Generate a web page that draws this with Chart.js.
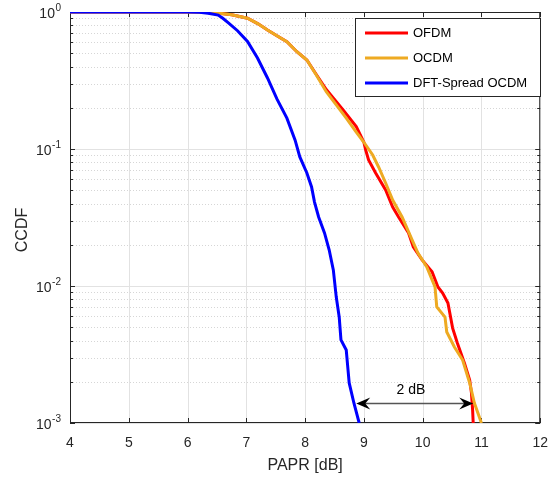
<!DOCTYPE html>
<html>
<head>
<meta charset="utf-8">
<script src="https://cdn.jsdelivr.net/npm/chart.js@4.4.1/dist/chart.umd.min.js"></script>
<style>
  html, body { margin: 0; padding: 0; background: #fff; }
  #wrap { width: 560px; height: 478px; }
</style>
</head>
<body>
<div id="wrap"><canvas id="ccdf" width="560" height="478" style="width:560px;height:478px"></canvas></div>
<script>
// values (PAPR in dB, CCDF)
var xTicks = [4, 5, 6, 7, 8, 9, 10, 11, 12];
var yDecades = [0.001, 0.01, 0.1, 1];
var yExponents = ['-3', '-2', '-1', '0'];

var seriesNames = ['OFDM', 'OCDM', 'DFT-Spread OCDM'];
var seriesColors = ['#ff0000', '#eeaa22', '#0000ff'];

var ofdmX = [4, 6.1, 6.3, 6.5, 6.75, 7.02, 7.2, 7.36, 7.52, 7.69, 7.86, 8.03, 8.19, 8.36, 8.65, 8.87, 9.0, 9.03, 9.08, 9.2, 9.37, 9.49, 9.59, 9.76, 9.84, 9.99, 10.16, 10.26, 10.34, 10.43, 10.51, 10.59, 10.71, 10.8, 10.83, 10.85, 10.86];
var ofdmY = [1, 1, 0.995, 0.985, 0.955, 0.9, 0.82, 0.739, 0.67, 0.607, 0.513, 0.446, 0.35, 0.272, 0.192, 0.146, 0.112, 0.0984, 0.0832, 0.0668, 0.0502, 0.0377, 0.0319, 0.0244, 0.0193, 0.0155, 0.0127, 0.00984, 0.00889, 0.00751, 0.00493, 0.00384, 0.00274, 0.00206, 0.00166, 0.00124, 0.001];

var ocdmX = [4, 6.1, 6.3, 6.5, 6.75, 7.02, 7.2, 7.36, 7.52, 7.69, 7.86, 8.03, 8.19, 8.36, 8.53, 8.7, 8.87, 9.0, 9.15, 9.25, 9.37, 9.49, 9.65, 9.82, 9.92, 10.07, 10.21, 10.24, 10.38, 10.41, 10.54, 10.68, 10.8, 10.88, 11.0];
var ocdmY = [1, 1, 0.995, 0.985, 0.955, 0.9, 0.82, 0.739, 0.67, 0.607, 0.513, 0.446, 0.347, 0.262, 0.21, 0.168, 0.133, 0.112, 0.0904, 0.0739, 0.0565, 0.0424, 0.0319, 0.0217, 0.0174, 0.0138, 0.00984, 0.00703, 0.00594, 0.00462, 0.00359, 0.00288, 0.00196, 0.0014, 0.001];

var dftX = [4, 6.0, 6.2, 6.35, 6.52, 6.6, 6.7, 6.85, 7.02, 7.19, 7.36, 7.52, 7.69, 7.83, 7.91, 8.03, 8.11, 8.16, 8.23, 8.33, 8.41, 8.48, 8.53, 8.58, 8.61, 8.7, 8.73, 8.75, 8.83, 8.92];
var dftY = [1, 1, 0.995, 0.98, 0.95, 0.9, 0.83, 0.73, 0.61, 0.461, 0.33, 0.232, 0.168, 0.116, 0.0875, 0.0668, 0.0528, 0.041, 0.0319, 0.0244, 0.0183, 0.0131, 0.0083, 0.00594, 0.00404, 0.00341, 0.00244, 0.00196, 0.0014, 0.001];

// the "2 dB" double arrow
var annoX = [8.87, 10.86];
var annoY = 0.00141;
var annoTextX = 9.8;
var annoText = '2 dB';

var FONT = "'Liberation Sans', Arial, sans-serif";
var AXIS = '#262626';

function toPoints(xs, ys) {
    var pts = [];
    for (var i = 0; i < xs.length; i++) pts.push({ x: xs[i], y: ys[i] });
    return pts;
}

function hline(ctx, a, py) {
    ctx.beginPath();
    ctx.moveTo(a.left, py);
    ctx.lineTo(a.right, py);
    ctx.stroke();
}

// grid, box and inward ticks, MATLAB style
var axesPlugin = {
    id: 'matlabAxes',
    beforeDatasetsDraw: function(chart) {
        var ctx = chart.ctx, a = chart.chartArea;
        var xs = chart.scales.x, ys = chart.scales.y;
        var i, m, px, py;
        ctx.save();
        ctx.lineWidth = 1;

        ctx.strokeStyle = '#d6d6d6';
        ctx.setLineDash([1, 2]);
        for (i = 0; i < yDecades.length - 1; i++) {
            for (m = 2; m <= 9; m++) {
                py = Math.round(ys.getPixelForValue(yDecades[i] * m)) + 0.5;
                hline(ctx, a, py);
            }
        }
        ctx.setLineDash([]);

        ctx.strokeStyle = '#e2e2e2';
        for (i = 0; i < xTicks.length; i++) {
            px = Math.round(xs.getPixelForValue(xTicks[i])) + 0.5;
            ctx.beginPath();
            ctx.moveTo(px, a.top);
            ctx.lineTo(px, a.bottom);
            ctx.stroke();
        }
        for (i = 0; i < yDecades.length; i++) {
            py = Math.round(ys.getPixelForValue(yDecades[i])) + 0.5;
            hline(ctx, a, py);
        }

        ctx.strokeStyle = AXIS;
        ctx.strokeRect(a.left + 0.5, a.top + 0.5, a.right - a.left - 1, a.bottom - a.top - 1);

        ctx.beginPath();
        for (i = 0; i < xTicks.length; i++) {
            px = Math.round(xs.getPixelForValue(xTicks[i])) + 0.5;
            ctx.moveTo(px, a.bottom); ctx.lineTo(px, a.bottom - 5);
            ctx.moveTo(px, a.top); ctx.lineTo(px, a.top + 5);
        }
        for (i = 0; i < yDecades.length; i++) {
            for (m = 1; m <= 9; m++) {
                if (i == yDecades.length - 1 && m > 1) break;
                var len = (m == 1) ? 5 : 3;
                py = Math.round(ys.getPixelForValue(yDecades[i] * m)) + 0.5;
                ctx.moveTo(a.left, py); ctx.lineTo(a.left + len, py);
                ctx.moveTo(a.right, py); ctx.lineTo(a.right - len, py);
            }
        }
        ctx.stroke();
        ctx.restore();
    },
    afterDraw: function(chart) {
        var ctx = chart.ctx, a = chart.chartArea;
        var xs = chart.scales.x, ys = chart.scales.y;
        var i, py;
        ctx.save();

        // y tick labels 10^n
        ctx.fillStyle = AXIS;
        ctx.textAlign = 'right';
        ctx.textBaseline = 'middle';
        for (i = 0; i < yDecades.length; i++) {
            py = ys.getPixelForValue(yDecades[i]);
            ctx.font = '10px ' + FONT;
            var ew = ctx.measureText(yExponents[i]).width;
            ctx.fillText(yExponents[i], 61, py - 4);
            ctx.font = '14px ' + FONT;
            ctx.fillText('10', 61 - ew - 0.5, py + 2.5);
        }

        // y axis title
        ctx.save();
        ctx.translate(22.5, 230);
        ctx.rotate(-Math.PI / 2);
        ctx.textAlign = 'center';
        ctx.font = '16px ' + FONT;
        ctx.fillText('CCDF', 0, 0);
        ctx.restore();

        // double arrow
        var ay = Math.round(ys.getPixelForValue(annoY)) + 0.5;
        var x0 = xs.getPixelForValue(annoX[0]);
        var x1 = xs.getPixelForValue(annoX[1]);
        ctx.strokeStyle = '#555555';
        ctx.lineWidth = 1.6;
        ctx.beginPath();
        ctx.moveTo(x0 + 8, ay);
        ctx.lineTo(x1 - 8, ay);
        ctx.stroke();
        ctx.fillStyle = '#000000';
        ctx.beginPath();
        ctx.moveTo(x0, ay); ctx.lineTo(x0 + 14, ay - 6); ctx.lineTo(x0 + 9, ay); ctx.lineTo(x0 + 14, ay + 6);
        ctx.closePath();
        ctx.fill();
        ctx.beginPath();
        ctx.moveTo(x1, ay); ctx.lineTo(x1 - 14, ay - 6); ctx.lineTo(x1 - 9, ay); ctx.lineTo(x1 - 14, ay + 6);
        ctx.closePath();
        ctx.fill();
        ctx.font = '14px ' + FONT;
        ctx.textAlign = 'center';
        ctx.textBaseline = 'middle';
        ctx.fillText(annoText, xs.getPixelForValue(annoTextX), ay - 13);

        // legend box in the upper right corner
        ctx.fillStyle = '#ffffff';
        ctx.fillRect(355, 18, 185, 78);
        ctx.strokeStyle = AXIS;
        ctx.lineWidth = 1;
        ctx.strokeRect(355.5, 18.5, 185, 78);
        ctx.font = '13px ' + FONT;
        ctx.textAlign = 'left';
        for (i = 0; i < seriesNames.length; i++) {
            var ly = 33 + i * 25;
            ctx.strokeStyle = seriesColors[i];
            ctx.lineWidth = 3;
            ctx.beginPath();
            ctx.moveTo(365, ly);
            ctx.lineTo(408, ly);
            ctx.stroke();
            ctx.fillStyle = '#000000';
            ctx.fillText(seriesNames[i], 413, ly + 0.5);
        }
        ctx.restore();
    }
};

function lineSet(i, xs, ys, order) {
    return {
        label: seriesNames[i],
        data: toPoints(xs, ys),
        borderColor: seriesColors[i],
        borderWidth: 3,
        pointRadius: 0,
        fill: false,
        tension: 0,
        order: order
    };
}

var chart0 = new Chart(document.getElementById('ccdf'), {
    type: 'line',
    data: {
        datasets: [
            lineSet(0, ofdmX, ofdmY, 3),
            lineSet(1, ocdmX, ocdmY, 2),
            lineSet(2, dftX, dftY, 1)
        ]
    },
    options: {
        responsive: false,
        animation: false,
        layout: { padding: { top: 12, right: 13, left: 0, bottom: 0 } },
        plugins: { legend: { display: false }, tooltip: { enabled: false } },
        scales: {
            x: {
                type: 'linear',
                min: 4,
                max: 12,
                grid: { display: false, drawTicks: false },
                border: { display: false },
                ticks: {
                    stepSize: 1,
                    padding: 12,
                    color: AXIS,
                    font: { family: FONT, size: 14 }
                },
                title: {
                    display: true,
                    text: 'PAPR [dB]',
                    color: AXIS,
                    font: { family: FONT, size: 16 },
                    padding: { top: 0, bottom: 3 }
                },
                afterFit: function(scale) { scale.height = 55; }
            },
            y: {
                type: 'logarithmic',
                min: 0.001,
                max: 1,
                grid: { display: false, drawTicks: false },
                border: { display: false },
                ticks: { display: false },
                afterFit: function(scale) { scale.width = 70; }
            }
        }
    },
    plugins: [axesPlugin]
});
</script>
</body>
</html>
